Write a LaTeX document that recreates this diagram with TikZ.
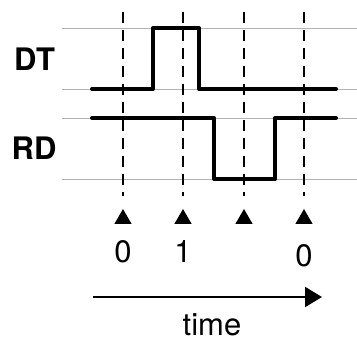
\documentclass[tikz,border=0pt]{standalone}
\usepackage{fontspec}
\setmainfont{TeX Gyre Heros}
\usetikzlibrary{positioning}
\usetikzlibrary{arrows.meta, shapes.geometric}

\newcommand{\bigtxt}{\fontsize{31pt}{36pt}\selectfont}

\begin{document}
\begin{tikzpicture}[x=1pt, y=-1pt,
    guide/.style={draw=black!30, line width=0.8pt},
    tick/.style={black, line width=1.8pt, dash pattern=on 11pt off 7pt},
    signal/.style={line width=4pt, line cap=round, line join=round},
    marker/.style={regular polygon, regular polygon sides=3, minimum size=20pt, inner sep=0pt, fill=black},
    lab/.style={font=\bigtxt\bfseries},
    val/.style={font=\bigtxt, anchor=base}]
    \useasboundingbox (0,0) rectangle (357,342);

    % Guides
    \foreach \y in {28, 89, 118, 179}
        \draw[guide] (62,\y) -- (357,\y);
    \foreach \x in {123, 183, 244, 304}
        \draw[tick] (\x,12) -- (\x,196);

    % Labels
    \node[lab] (dt) at (34.5,59) {DT};
    \node[lab] (rd) at (34,148) {RD};

    % Signals
    \draw[signal] (92,89) -- (153,89) -- (153,28) -- (199,28) -- (199,89) -- (336,89);
    \draw[signal] (92,118) -- (214,118) -- (214,179) -- (275,179) -- (275,118) -- (336,118);

    % Markers
    \node[marker] (m1) at (123,219) {};
    \node[marker] (m2) at (183,219) {};
    \node[marker] (m3) at (244,219) {};
    \node[marker] (m4) at (304,219) {};

    \node[val] (v1) at (123,263) {0};
    \node[val] (v2) at (183,263) {1};
    \node[val] (v4) at (304,267) {0};

    % Arrow
    \coordinate (ts) at (93,297);
    \coordinate (te) at (322,297);
    \draw[-{Triangle[length=17pt, width=20pt]}, line width=2.2pt] (ts) -- (te);
    \node[val] (time) at (212,336) {time};
\end{tikzpicture}
\end{document}
